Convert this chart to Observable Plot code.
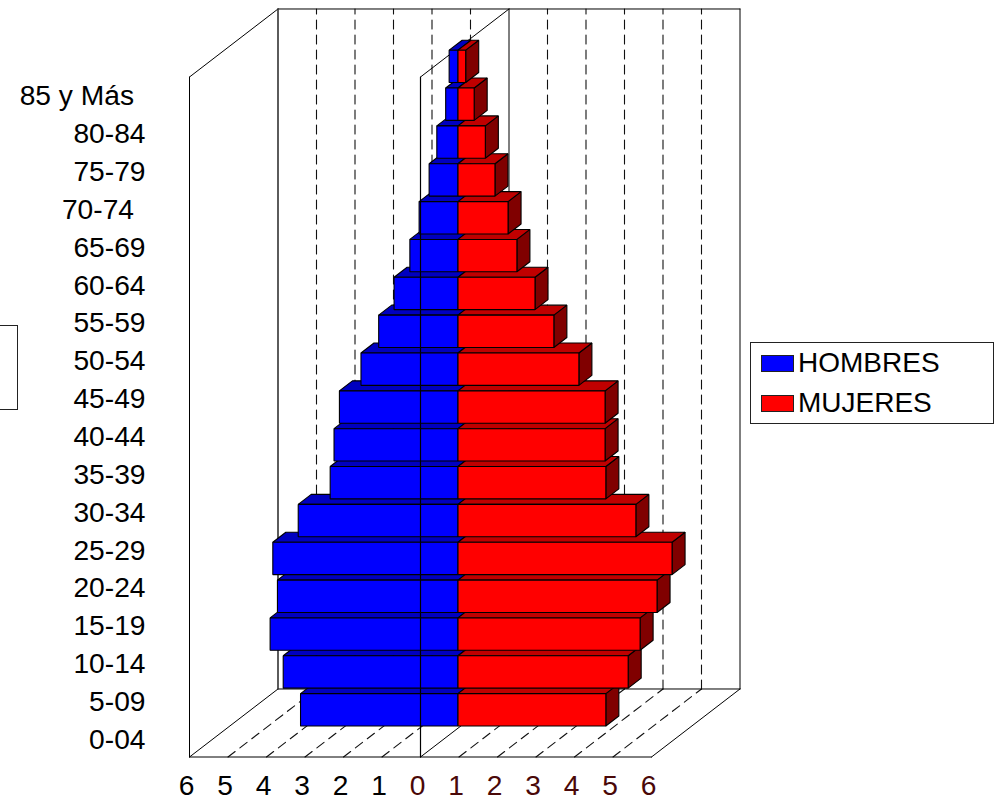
<!DOCTYPE html>
<html lang="es">
<head>
<meta charset="utf-8">
<script src="https://cdn.jsdelivr.net/npm/d3@7"></script>
<script src="https://cdn.jsdelivr.net/npm/@observablehq/plot@0.6"></script>
<style>
html,body{margin:0;padding:0;background:#fff;overflow:hidden}
body{position:relative;width:1002px;height:802px;font-family:"Liberation Sans",Arial,sans-serif}
.box{position:absolute;box-sizing:border-box;border:1px solid #222;background:#fff}
.sw{position:absolute;box-sizing:border-box;border:1px solid #222;width:33px;height:17px;left:10px}
.lb{position:absolute;left:47px;font-size:28px;line-height:32px;color:#000}
</style>
</head>
<body>
<div id="chart"></div>
<script>
const ageGroups = ["0-04","5-09","10-14","15-19","20-24","25-29","30-34","35-39","40-44","45-49","50-54","55-59","60-64","65-69","70-74","75-79","80-84","85 y Más"];
const hombres = [4.09,4.54,4.88,4.69,4.81,4.15,3.32,3.22,3.08,2.52,2.06,1.66,1.25,1.01,0.75,0.55,0.32,0.23];
const mujeres = [3.84,4.42,4.73,5.17,5.56,4.62,3.84,3.82,3.82,3.14,2.49,2.00,1.53,1.30,0.96,0.71,0.42,0.20];
const xTicks = [-6,-5,-4,-3,-2,-1,0,1,2,3,4,5,6];
const offsetLabels = ["85 y Más","70-74"];
const seriesNames = ["HOMBRES","MUJERES"];

const yMax = 17.966, depthX = 2.2987, depthY = 1.797;
const at = (x, y, z = 0) => ({x: x + depthX * z, y: y + depthY * z});
const path = (id, pts) => pts.map(p => ({id, ...p}));

// walls and floor
const frame = [
  [at(-6,0), at(-6,yMax)],
  [at(-6,yMax), at(-6,yMax,1)],
  [at(-6,0), at(6,0)],
  [at(-6,0), at(-6,0,1)],
  [at(6,0), at(6,0,1)],
  [at(-6,yMax,1), at(6,yMax,1)],
  [at(-6,0,1), at(6,0,1)],
  [at(6,0,1), at(6,yMax,1)],
  [at(0,0), at(0,0,1)],
  [at(0,yMax), at(0,yMax,1)],
  [at(0,0,1), at(0,yMax,1)]
].flatMap((p,i) => path("f"+i, p));
const backLeft = path("bl", [at(-6,0,1), at(-6,yMax,1)]);
const centre = path("c", [at(0,0), at(0,yMax)]);
const inner = xTicks.slice(1,-1);
const wallGrid = xTicks.slice(1).flatMap(t => path("w"+t, [at(t,0,1), at(t,yMax,1)])).filter(d => d.id !== "w0" && d.id !== "w6");
const floorGrid = inner.filter(t => t !== 0).flatMap(t => path("g"+t, [at(t,0), at(t,0,1)]));

// bars: painted from the bottom row upward
const z0 = 0.4237, dz = 0.147, gap = 0.058, h = 0.855;
const faces = [];
ageGroups.forEach((g,i) => {
  const b = i + gap, t = b + h, l = -hombres[i], r = mujeres[i];
  const poly = (k, fill, pts) => faces.push(...pts.map(p => ({id: g+k, fill, ...p})));
  poly("s", "#800000", [at(r,b,z0), at(r,b,z0+dz), at(r,t,z0+dz), at(r,t,z0)]);
  poly("tb", "#0000c0", [at(l,t,z0), at(0,t,z0), at(0,t,z0+dz), at(l,t,z0+dz)]);
  poly("tr", "#c00000", [at(0,t,z0), at(r,t,z0), at(r,t,z0+dz), at(0,t,z0+dz)]);
  poly("fb", "#0000ff", [at(l,b,z0), at(0,b,z0), at(0,t,z0), at(l,t,z0)]);
  poly("fr", "#ff0000", [at(0,b,z0), at(r,b,z0), at(r,t,z0), at(0,t,z0)]);
});

const plot = Plot.plot({
  width: 1002, height: 802,
  margin: 0,
  x: {domain: [-6,6], range: [189,651], axis: null},
  y: {domain: [0,yMax], range: [756.5,76.5], axis: null},
  style: {fontFamily: '"Liberation Sans",Arial,sans-serif', background: "#fff"},
  marks: [
    Plot.line(wallGrid, {x:"x", y:"y", z:"id", stroke:"#111", strokeWidth:1.1, strokeDasharray:"9 6"}),
    Plot.line(floorGrid, {x:"x", y:"y", z:"id", stroke:"#111", strokeWidth:1.1, strokeDasharray:"9 6"}),
    Plot.line(frame, {x:"x", y:"y", z:"id", stroke:"#000", strokeWidth:1}),
    Plot.line(backLeft, {x:"x", y:"y", z:"id", stroke:"#333", strokeWidth:1.6}),
    Plot.line(faces, {x:"x", y:"y", z:"id", fill:"fill", stroke:"#000", strokeWidth:1.1, curve:"linear-closed", strokeLinejoin:"miter"}),
    Plot.line(centre, {x:"x", y:"y", z:"id", stroke:"#000", strokeWidth:1.2}),
    Plot.text(ageGroups.filter(g => !offsetLabels.includes(g)), {
      x: () => -6, y: g => ageGroups.indexOf(g) + 0.5, text: d => d,
      textAnchor:"end", dx:-44, dy:1.7, fontSize:28.2, fill:"#000"}),
    Plot.text(ageGroups.filter(g => offsetLabels.includes(g)), {
      x: () => -6, y: g => ageGroups.indexOf(g) + 0.5, text: d => d,
      textAnchor:"end", dx:-55.5, dy:1.7, fontSize:28.2, fill:"#000"}),
    Plot.text(xTicks, {
      x: d => d, y: () => 0, text: d => String(Math.abs(d)),
      dx:-3, dy:29, fontSize:28.2, fill: d => d < 0 ? "#000" : "#4a0808"})
  ]
});
document.getElementById("chart").appendChild(plot);

// legend and empty cut-off box
const add = (cls, css, txt) => {
  const el = document.createElement("div");
  el.className = cls; el.style.cssText = css;
  if (txt) el.textContent = txt;
  return el;
};
document.body.appendChild(add("box", "left:-2px;top:325px;width:20px;height:85px"));
const legend = add("box", "left:750px;top:342px;width:244px;height:82px");
const swatchColors = ["#0000ff","#ff0000"];
seriesNames.forEach((n,i) => {
  legend.appendChild(add("sw", `top:${12 + 40*i}px;background:${swatchColors[i]}`));
  legend.appendChild(add("lb", `top:${3.5 + 40*i}px`, n));
});
document.body.appendChild(legend);
</script>
</body>
</html>
